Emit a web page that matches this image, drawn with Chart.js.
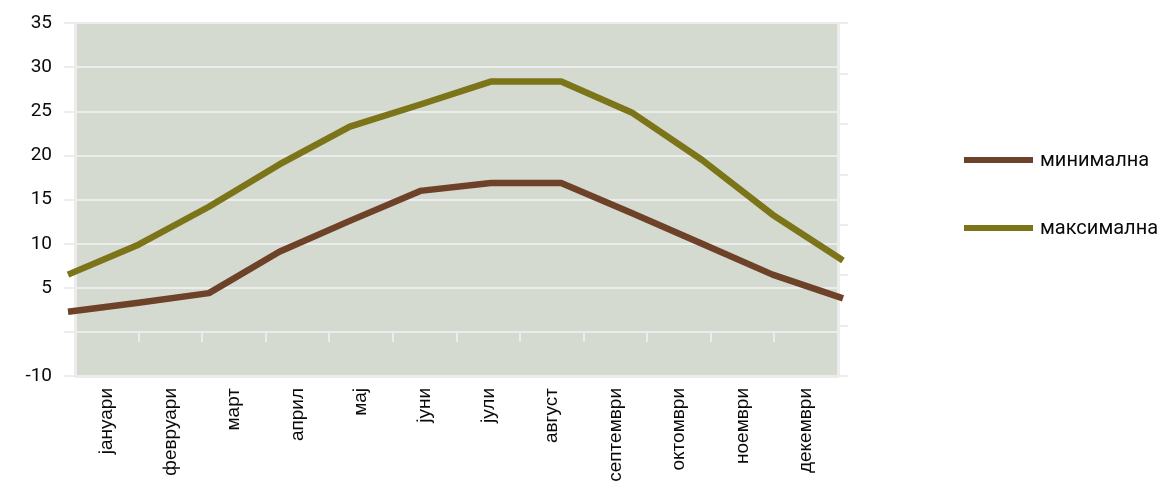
<!DOCTYPE html>
<html>
<head>
<meta charset="utf-8">
<script src="https://cdn.jsdelivr.net/npm/chart.js@4/dist/chart.umd.min.js"></script>
<style>
  html, body { margin: 0; padding: 0; background: #ffffff; }
  #wrap { width: 1164px; height: 483px; position: relative; }
</style>
</head>
<body>
<div id="wrap"><canvas id="c" width="1164" height="483"></canvas></div>
<script>
const months = ['јануари','февруари','март','април','мај','јуни','јули','август','септември','октомври','ноември','декември'];
const minTemps = [2.3, 3.3, 4.4, 9.1, 12.6, 16.0, 16.9, 16.9, 13.5, 10.0, 6.5, 3.8];
const maxTemps = [6.5, 9.9, 14.2, 19.0, 23.3, 25.8, 28.4, 28.4, 24.9, 19.5, 13.3, 8.1];
const seriesNames = ['минимална', 'максимална'];
const yTickValues = [-5, 0, 5, 10, 15, 20, 25, 30, 35];
const yTickLabels = ['-10', '', '5', '10', '15', '20', '25', '30', '35'];

const GRID = '#ececec';
const PLOT_BG = '#d5dad1';
const COLORS = ['#6e4129', '#7b7418'];

const plotBg = {
  id: 'plotBg',
  beforeDraw(chart) {
    const a = chart.chartArea, ctx = chart.ctx;
    ctx.save();
    ctx.fillStyle = PLOT_BG;
    ctx.fillRect(a.left + 2, a.top, a.right - a.left - 3, a.bottom - a.top);
    ctx.restore();
  }
};

const sideLegend = {
  id: 'sideLegend',
  afterDraw(chart) {
    const ctx = chart.ctx;
    chart.data.datasets.forEach((ds, i) => {
      const y = 160 + i * 68;
      ctx.save();
      ctx.strokeStyle = ds.borderColor;
      ctx.lineWidth = 6;
      ctx.beginPath();
      ctx.moveTo(964, y);
      ctx.lineTo(1033, y);
      ctx.stroke();
      ctx.fillStyle = '#0a0a0a';
      ctx.font = '20px Roboto';
      ctx.textBaseline = 'middle';
      ctx.textAlign = 'left';
      ctx.fillText(ds.label, 1040, y + 1);
      ctx.restore();
    });
  }
};

const toPoints = arr => arr.map((v, i) => ({ x: i, y: v }));

new Chart(document.getElementById('c'), {
  type: 'line',
  data: {
    labels: months,
    datasets: [
      { label: seriesNames[0], data: toPoints(minTemps), xAxisID: 'xl', yAxisID: 'y',
        borderColor: COLORS[0], backgroundColor: COLORS[0], borderWidth: 6.5, pointRadius: 0,
        tension: 0, clip: false, borderJoinStyle: 'round' },
      { label: seriesNames[1], data: toPoints(maxTemps), xAxisID: 'xl', yAxisID: 'y',
        borderColor: COLORS[1], backgroundColor: COLORS[1], borderWidth: 6.5, pointRadius: 0,
        tension: 0, clip: false, borderJoinStyle: 'round' }
    ]
  },
  options: {
    responsive: false,
    animation: false,
    devicePixelRatio: 1,
    layout: { padding: { left: 0, right: 316, top: 20, bottom: 0 } },
    plugins: { legend: { display: false }, tooltip: { enabled: false } },
    scales: {
      x: {
        type: 'category',
        position: 'bottom',
        offset: true,
        grid: { display: false },
        border: { display: true, color: GRID, width: 3 },
        ticks: {
          autoSkip: false, maxRotation: 90, minRotation: 90, padding: 4,
          color: '#0a0a0a', font: { family: 'Liberation Sans', size: 19 }
        },
        afterFit(s) { s.height = 107; }
      },
      x0: {
        type: 'category',
        labels: months,
        position: { y: 0 },
        offset: true,
        grid: { offset: true, drawOnChartArea: false, tickLength: 10, color: GRID, lineWidth: 2 },
        border: { display: false },
        ticks: { display: false }
      },
      xl: {
        type: 'linear',
        display: false,
        min: 0.0994,
        max: 10.929
      },
      y: {
        type: 'linear',
        position: 'left',
        min: -5,
        max: 35,
        grid: { color: GRID, lineWidth: 2, tickLength: 11 },
        border: { display: true, color: GRID, width: 3 },
        ticks: {
          stepSize: 5, padding: 12, color: '#0a0a0a',
          font: { family: 'Roboto', size: 19 },
          callback: (v) => { const k = yTickValues.indexOf(v); return k >= 0 ? yTickLabels[k] : ''; }
        },
        afterFit(s) { s.width = 75; }
      },
      y2: {
        type: 'linear',
        position: 'right',
        min: 0,
        max: 7,
        grid: { drawOnChartArea: false, tickLength: 10, color: GRID, lineWidth: 2 },
        border: { display: true, color: GRID, width: 3 },
        ticks: { display: false, stepSize: 1 },
        afterFit(s) { s.width = 10; }
      }
    }
  },
  plugins: [plotBg, sideLegend]
});
</script>
</body>
</html>
